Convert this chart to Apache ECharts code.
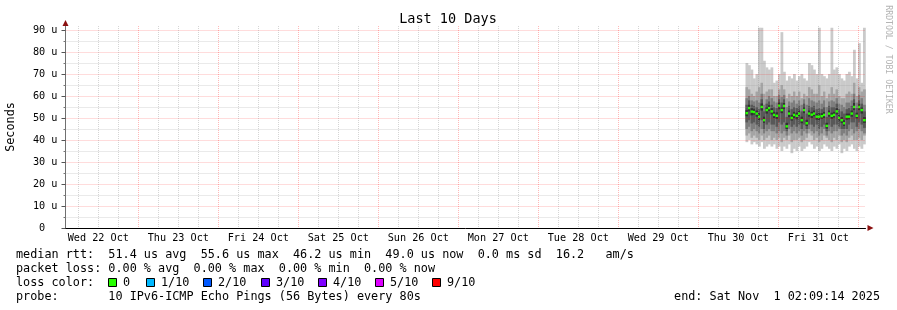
<!DOCTYPE html>
<html><head><meta charset="utf-8">
<script src="https://cdn.jsdelivr.net/npm/echarts@6/dist/echarts.min.js"></script>
<style>html,body{margin:0;padding:0;background:#fff}#c{width:897px;height:310px}</style>
</head><body><div id="c"></div>
<script>
// ---- axis labels / ticks ----
const dayLabels = ['Wed 22 Oct','Thu 23 Oct','Fri 24 Oct','Sat 25 Oct','Sun 26 Oct','Mon 27 Oct','Tue 28 Oct','Wed 29 Oct','Thu 30 Oct','Fri 31 Oct'];
const dayNoonHours = [12,36,60,84,108,132,156,180,204,228];      // hours since Wed 22 Oct 00:00
const midnightHours = [24,48,72,96,120,144,168,192,216,240];
const yTicks = [0,10,20,30,40,50,60,70,80,90];
const yMinorTicks = [5,15,25,35,45,55,65,75,85];
const xStart = 2.154, xEnd = 242.154;   // 10 days ending Sat Nov 1 02:09:14
const colStart = 206.15, colStep = 0.75;

// ---- smoke data (microseconds), sorted pings per column ----
const ping0 = [39,40,38,39,38,37,39,36,37,38,37,38,36,37,35,37,36,38,34,36,35,37,35,36,37,39,38,36,37,35,36,38,37,36,35,37,36,38,34,36,35,37,38,36,35,37,36,38];
const ping1 = [42,43,41,42,41,40,42,40,41,42,40,41,40,41,39,41,40,42,39,40,40,41,39,40,41,43,42,40,41,39,40,42,41,40,39,41,40,42,39,40,39,41,42,40,40,41,40,42];
const ping2 = [45,46,44,45,44,43,45,43,44,45,44,44,43,44,43,44,42,45,43,44,43,44,42,44,43,45,44,43,44,42,43,45,42,44,43,44,44,45,42,43,42,44,45,43,44,45,44,43];
const ping3 = [48,49,47.5,48,47,46,49,45,47,48,47,47,46,48,47,48,44,47,46,47,46,47,45,47,45,47,47,46,47,45,46,47,44,47,46,47,47,46,45,45,45,47,48,48,46,48,47,45.5];
const ping4 = [50.8,53.0,51.2,51.5,50.6,49.0,53.4,47.8,52.0,53.2,51.6,50.0,49.6,54.0,52.2,54.0,45.0,50.4,48.8,50.0,49.4,50.8,47.6,52.2,46.4,50.6,50.0,50.8,49.2,49.0,49.6,50.0,45.2,50.6,49.6,50.2,51.6,48.6,47.8,46.4,49.2,49.4,50.6,53.6,49.8,53.6,52.0,47.8];
const ping5 = [53.6,56.0,54.4,54.0,53.4,52.2,56.6,50.6,55.0,55.8,54.4,52.8,52.6,57.0,55.0,56.8,47.8,53.4,51.4,52.8,52.4,53.4,50.6,55.0,49.2,53.4,52.8,53.4,52.0,52.2,52.2,52.8,47.8,53.4,52.4,52.8,54.4,51.4,50.4,49.0,52.0,52.0,53.4,56.8,52.4,56.4,55.0,50.4];
const ping6 = [56,58,56,55.5,55,54,58.5,53,56.5,57.5,56,55,54.5,58.5,57,58.5,50.5,55.5,54,55,54.5,55.5,53,56.5,52,55.5,55,55.5,54,54.5,54,55,50.5,55.5,55,55,56.5,54,53,52,54,54.5,55.5,58.5,54.5,58,56.5,53];
const ping7 = [59,60,58,57.5,58,57,61,56,58.5,60,59,57.5,57,60.5,59.5,60.5,55,57.5,57,58,56.5,58,56,58.5,56,59,58,57.5,57,58,56.5,58,55,57.5,58,57.5,59,56.5,56,55,57,57,58,61,57,60.5,59,56];
const ping8 = [64,63,61,60,62,64,66,61,62,63,63,60,60,63,65,63,59,61,60,62,60,62,59,61,60,64,63,61,61,65,60,62,59,61,64,61,63,60,59,59,61,62,61,66,60,64,62,63];
const ping9 = [75,74,72,68,70,91,91,76,73,72,73,66,67,70,89,71,67,69,68,70,67,69,70,68,67,75,74,72,70,91,70,69,68,70,91,72,73,70,68,67,70,71,69,81,68,84,66,91];
const median = [52.2,54.5,52.9,52.7,52.0,50.6,55.0,49.0,53.6,54.5,53.0,51.4,51.0,55.6,53.6,55.5,46.2,52.0,50.0,51.4,51.0,52.0,49.0,53.6,47.6,52.0,51.5,52.0,50.6,50.6,50.8,51.4,46.4,52.0,51.0,51.4,53.0,50.0,49.0,47.6,50.6,50.6,52.0,55.0,51.0,55.0,53.6,49.0];

// ---- legend ----
const legendLines = [
  'median rtt:  51.4 us avg  55.6 us max  46.2 us min  49.0 us now  0.0 ms sd  16.2   am/s',
  'packet loss: 0.00 % avg  0.00 % max  0.00 % min  0.00 % now',
  'loss color:',
  'probe:       10 IPv6-ICMP Echo Pings (56 Bytes) every 80s'
];
const lossLabels = ['0','1/10','2/10','3/10','4/10','5/10','9/10'];
const lossColors = ['#26ff00','#00b8ff','#0059ff','#5e00ff','#7e00ff','#dd00ff','#ff0000'];
const endText = 'end: Sat Nov  1 02:09:14 2025';
const shades = ['#cacaca','#a4a4a4','#7e7e7e','#585858','#323232'];

const FONT = "'DejaVu Sans Mono', monospace";
const pings = [ping0,ping1,ping2,ping3,ping4,ping5,ping6,ping7,ping8,ping9];
const rows = median.map((m, i) => [colStart + i * colStep].concat(pings.map(p => p[i]), [m]));
const minorHours = [];
for (let h = 6; h < xEnd; h += 6) if (h % 24 !== 0 && h > xStart) minorHours.push(h);

const chart = echarts.init(document.getElementById('c'), null, {renderer: 'canvas'});
const majorLine = {show: true, lineStyle: {color: 'rgba(255,0,0,0.28)', type: 'dotted', width: 1}};
const minorLine = {show: true, lineStyle: {color: 'rgba(150,150,150,0.4)', type: 'dotted', width: 1}};

const graphics = [];
graphics.push({type: 'text', x: 448, y: 19.5, z: 10, style: {text: 'Last 10 Days', font: '13.5px ' + FONT, fill: '#000', align: 'center', verticalAlign: 'middle'}});
graphics.push({type: 'text', x: 888.5, y: 59.5, rotation: -Math.PI / 2, z: 10, style: {text: 'RRDTOOL / TOBI OETIKER', font: '8.2px ' + FONT, fill: '#b4b4b4', align: 'center', verticalAlign: 'middle'}});
const lineY = [254.5, 268.5, 282.5, 296.5];
legendLines.forEach((t, i) => graphics.push({type: 'text', x: 16, y: lineY[i], style: {text: t, font: '11.8px ' + FONT, fill: '#000', align: 'left', verticalAlign: 'middle'}}));
graphics.push({type: 'text', x: 880, y: lineY[3], style: {text: endText, font: '11.8px ' + FONT, fill: '#000', align: 'right', verticalAlign: 'middle'}});
const boxX = [108, 146, 203, 261, 318, 375, 432];
lossLabels.forEach((l, i) => {
  graphics.push({type: 'rect', shape: {x: boxX[i] + 0.5, y: 278.5, width: 8, height: 8}, style: {fill: lossColors[i], stroke: '#000', lineWidth: 1}});
  graphics.push({type: 'text', x: boxX[i] + 15, y: lineY[2], style: {text: l, font: '11.8px ' + FONT, fill: '#000', align: 'left', verticalAlign: 'middle'}});
});

chart.setOption({
  animation: false,
  backgroundColor: '#fff',
  grid: {left: 65.5, right: 31.5, top: 26, bottom: 82, outerBoundsMode: 'none'},
  xAxis: [
    {type: 'value', min: xStart, max: xEnd, z: 5,
      axisLine: {show: true, lineStyle: {color: '#000', width: 1}},
      axisTick: {show: false, customValues: midnightHours},
      splitLine: majorLine,
      axisLabel: {show: true, customValues: dayNoonHours, margin: 5, color: '#000', fontFamily: FONT, fontSize: 10.2,
        formatter: v => dayLabels[Math.round((v - 12) / 24)]}},
    {type: 'value', min: xStart, max: xEnd, z: 6, position: 'bottom',
      axisLine: {show: true, symbol: ['none', 'triangle'], symbolSize: [6, 6], symbolOffset: [0, 5], lineStyle: {color: '#8b1010', opacity: 0}},
      axisTick: {show: false, customValues: minorHours},
      splitLine: minorLine,
      axisLabel: {show: false}}
  ],
  yAxis: [
    {type: 'value', min: 0, max: 91.8, z: 5,
      name: 'Seconds', nameLocation: 'middle', nameGap: 49, nameRotate: 90,
      nameTextStyle: {fontFamily: FONT, fontSize: 11.8, color: '#000'},
      axisLine: {show: true, lineStyle: {color: '#707070', width: 1}},
      axisTick: {show: true, length: 4, customValues: yTicks, lineStyle: {color: '#555'}},
      splitLine: majorLine,
      axisLabel: {show: true, customValues: yTicks, margin: 8, color: '#000', fontFamily: FONT, fontSize: 10.2,
        formatter: v => v === 0 ? '0  ' : v + ' u'}},
    {type: 'value', min: 0, max: 91.8, z: 6, position: 'left', offset: 0,
      axisLine: {show: true, symbol: ['none', 'triangle'], symbolSize: [6, 6], symbolOffset: [0, 3], lineStyle: {color: '#8b1010', opacity: 0}},
      axisTick: {show: true, length: 2, customValues: yMinorTicks, lineStyle: {color: '#777'}},
      splitLine: minorLine,
      axisLabel: {show: false}}
  ],
  series: [{
    type: 'custom', z: 1, xAxisIndex: 0, yAxisIndex: 0,
    data: rows,
    encode: {x: 0, y: [1, 10]},
    renderItem: function (params, api) {
      const t = api.value(0);
      const a = api.coord([t, 0]), b = api.coord([t + colStep, 0]);
      const x = a[0], w = b[0] - a[0] + 0.3;
      const kids = [];
      for (let k = 0; k < 5; k++) {
        const lo = api.coord([t, api.value(1 + k)])[1];
        const hi = api.coord([t, api.value(10 - k)])[1];
        kids.push({type: 'rect', shape: {x: x, y: hi, width: w, height: lo - hi}, style: {fill: shades[k]}});
      }
      const m = api.coord([t, api.value(11)])[1];
      kids.push({type: 'rect', shape: {x: x, y: m - 1.2, width: w, height: 2.4}, style: {fill: lossColors[0]}});
      return {type: 'group', children: kids};
    }
  }],
  graphic: graphics
});
</script>
</body></html>
